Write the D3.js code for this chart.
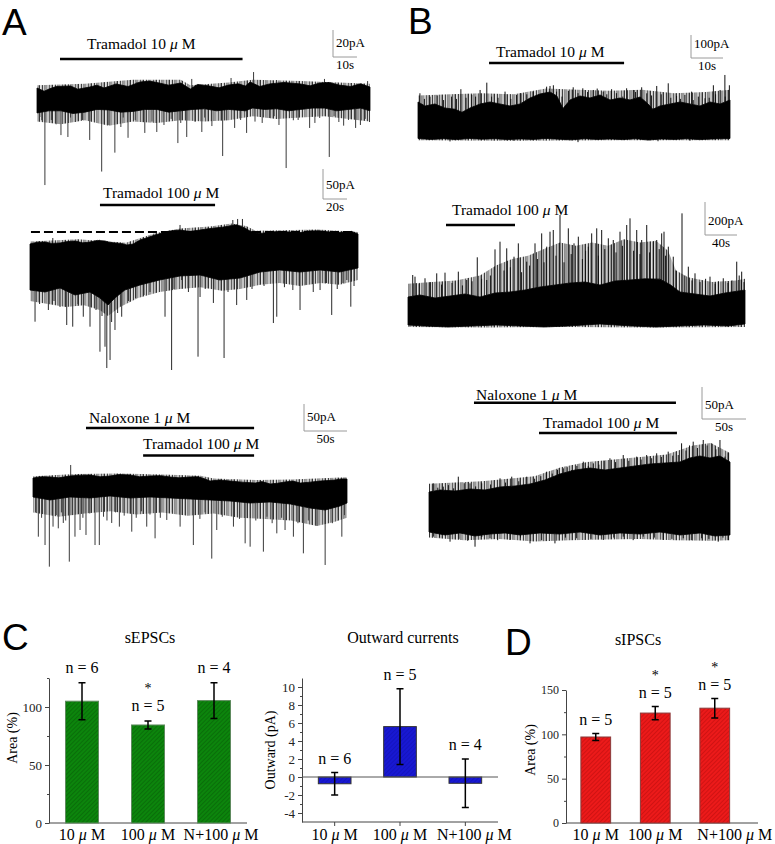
<!DOCTYPE html>
<html><head><meta charset="utf-8">
<script src="https://cdn.jsdelivr.net/npm/d3@7"></script>
<style>body{margin:0;background:#fff}svg{display:block}</style>
</head><body><svg id="fig" width="775" height="844"></svg>
<script>
// ---------------- DATA (time in s, current in pA) ----------------
// Trace A1
const a1Top = [[0,8.9],[3,6.5],[5,8.1],[8,10],[14,10.4],[17,8],[22,9.6],[25,11],[28,8.9],[33,11.9],[38,10],[43,13.3],[47,14],[51,12.6],[55,11],[60,12.6],[64,8.1],[67,11.5],[72,10.4],[76,9],[80,11.1],[84,12],[87,10.4],[89,13.3],[93,10],[97,11.9],[103,13],[110,11.9],[114,10.5],[118,12.6],[122,13],[126,11.1],[131,10],[135,12],[139,9.6]];
const a1Bottom = [[0,-9.6],[5,-8],[10,-8],[15,-10],[20,-9],[25,-7],[30,-7.4],[35,-9],[40,-8.5],[45,-7],[50,-7],[55,-9],[60,-8],[65,-7],[70,-6.5],[75,-8],[80,-7],[87,-8],[90,-5.9],[95,-7],[100,-6.5],[105,-8],[110,-7],[115,-6],[120,-6],[125,-8],[130,-7],[135,-6],[139,-8]];
const a1FringeHigh = [[0,11],[20,12],[40,15],[60,15],[64,11],[80,13],[90,15],[110,14],[139,12]];
const a1FringeLow = [[0,-16],[10,-18],[20,-15],[30,-19],[40,-16],[50,-17],[60,-15],[70,-16],[80,-15],[90,-12],[100,-14],[110,-13],[120,-12],[130,-14],[139,-16]];
const a1Spikes = [[3.3,-63],[10,-26],[12.9,-27.4],[22,-29.6],[27,-53],[32.5,-39],[38,-28],[45,-24.4],[50,-23.7],[58.8,-31.9],[62.5,-27.4],[68.8,-23.7],[77.5,-41.5],[82.5,-20.7],[87.5,-24.4],[94,-17],[104,-50.4],[113.8,-20.7],[122,-42.2],[133,-20.7],[138.8,-16.3],[1.2,-12.6],[6,-14.8],[16,-16.3],[19,-14.8],[30,-18.5],[41,-14.8],[53,-18.5],[66,-16.3],[73,-19.3],[85,-14.8],[97,-13.3],[101,-18.5],[109,-14.8],[118,-13.3],[126,-16.3],[130,-14.8],[135,-18.5],[2,-15],[8,-18],[14,-13],[24,-15],[35,-20],[36,-13],[48,-16],[56,-14],[60,-17],[70,-13],[79,-15],[91,-16],[99,-12],[107,-15],[116,-17],[124,-12],[128,-19],[137,-14],[90.4,20.7],[64.6,15.6],[81,16.3],[120,15.6],[138,14],[100,14.8],[41.7,13.3]];
const a1Drugs = [{name:"Tramadol", conc:"10", start:9.6, end:85.8}];

// Trace A2
const a2Top = [[0,-20],[6,-17],[12.5,-16.7],[18,-19],[25,-18.3],[31,-16],[37.5,-15],[44,-18],[50,-16.7],[56,-14],[62.5,-15],[66,-17],[70.8,-18.3],[76,-19],[80.8,-21.7],[86,-20],[91.7,-13.3],[97,-10],[104,-5],[108,-3],[112.5,0],[118,2],[125,3.3],[133,1],[141.7,3.3],[147,5],[154,6.7],[160,8],[166.7,10],[172,12],[179,6.7],[183,2],[187.5,-1.7],[194,-2],[200,0],[208,1],[216.7,0],[225,-1],[233,1.7],[241,2],[250,0],[256,-1],[262.5,0],[268,1],[273.3,-3.3]];
const a2Bottom = [[0,-96.7],[12.5,-100],[25,-93.3],[37.5,-105],[50,-100],[58.3,-110],[65,-121.7],[70.8,-110],[79,-96.7],[91.7,-88.3],[108,-80],[125,-73.3],[141.7,-71.7],[158,-80],[175,-76.7],[191.7,-66.7],[208,-63.3],[225,-66.7],[241.7,-63.3],[258,-66.7],[273.3,-60]];
const a2FringeHigh = [[0,-16],[40,-12],[80,-18],[92,-10],[104,-2],[125,6],[150,9],[168,14],[180,10],[188,2],[210,3],[240,4],[273.3,0]];
const a2FringeLow = [[0,-115],[15,-120],[30,-125],[45,-122],[58,-130],[65,-140],[75,-125],[90,-110],[108,-100],[125,-95],[142,-92],[160,-98],[175,-95],[192,-88],[208,-85],[225,-90],[242,-85],[258,-88],[273.3,-80]];
const a2Spikes = [[4.2,-149.5],[15.3,-130],[30.6,-155],[35.6,-157.8],[44.4,-141.2],[50,-157.8],[58.3,-199.5],[62.5,-191.2],[64,-226.7],[66.7,-213.3],[70.8,-163.3],[76.4,-141.2],[112.5,-141.2],[118,-230],[140,-207.8],[152.8,-118.3],[161.7,-210],[172.2,-121.7],[180.6,-113.3],[202.8,-151.7],[205.6,-141.2],[225,-130],[251.4,-138.3],[267.3,-124.5],[219,-96.7],[241.7,-96.7],[260.8,-85],[141.7,-108.3],[126.4,-80],[8,-120],[20,-115],[25,-125],[40,-120],[55,-130],[60,-140],[68,-150],[73,-135],[82,-115],[88,-110],[95,-105],[100,-100],[120,-95],[132,-100],[146,-95],[165,-100],[185,-95],[195,-90],[212,-92],[230,-88],[236,-100],[247,-85],[256,-95],[264,-80],[270,-90],[125,11.7],[169,20],[173,21.7],[177,21.7],[166.7,11.7],[152.5,6.7],[19,-10],[58,-13],[231,3.3],[252,1.7]];
const a2Drugs = [{name:"Tramadol", conc:"100", start:58.3, end:154.2}];
const a2Baseline = [0.8, 271];

// Trace A3
const a3Top = [[0,3.7],[10,6],[19.8,5.6],[30,4],[43,7.4],[55,9],[66.3,9.3],[78,6],[89.5,7.4],[100,10],[112.8,9.3],[124,6],[136,7.4],[148,8],[159.3,5.6],[170,4],[182.6,5.6],[192,6],[200,1.9],[205.8,-1.9],[217,0],[229,-1.9],[243,-4],[258.4,-5.6],[266,-3],[275.8,-7.4],[284,-6],[293,-3.7],[302,-2],[310.6,-5.6],[322,-4],[333.8,-1.9],[343,-1],[351.2,0],[358,2],[365,1.9]];
const a3Bottom = [[0,-31.5],[19.8,-37],[43,-31.5],[66.3,-33.3],[89.5,-29.6],[112.8,-33.3],[136,-31.5],[159.3,-33.3],[182.6,-35.2],[205.8,-37],[229,-38.9],[252.4,-42.6],[275.6,-40.7],[299,-44.4],[322,-51.9],[339.6,-55.6],[357,-48.1],[365,-42.6]];
const a3FringeHigh = [[0,7],[50,11],[100,12],[150,10],[195,8],[210,3],[260,0],[300,1],[365,5]];
const a3FringeLow = [[0,-60],[30,-68],[60,-62],[90,-58],[120,-64],[150,-60],[180,-66],[210,-62],[240,-70],[270,-72],[300,-75],[330,-85],[350,-78],[365,-70]];
const a3Spikes = [[6.2,-105],[14,-120.4],[19,-160.5],[23.3,-86.4],[29.4,-89.5],[35.2,-79.6],[42.2,-151.2],[48.8,-105],[54.7,-92.6],[61.6,-101.8],[72.1,-120.4],[77.1,-120.4],[91.5,-79.6],[100.4,-86.4],[114.8,-95.7],[132.2,-86.4],[141.9,-108],[155.5,-74],[171,-86.4],[186.4,-120.4],[207.8,-145.6],[213.6,-92.6],[233,-86.4],[246.6,-117.3],[252.4,-123.5],[267.8,-132.7],[283.4,-98.8],[293,-92.6],[302.7,-105],[314.3,-135.8],[339.6,-157.4],[359,-105],[3,-60],[10,-70],[27,-65],[33,-60],[38,-75],[46,-65],[58,-70],[66,-62],[82,-68],[86,-75],[96,-60],[106,-66],[120,-70],[126,-58],[136,-64],[148,-70],[162,-60],[177,-65],[194,-72],[200,-60],[220,-68],[240,-72],[259,-75],[272,-68],[278,-80],[289,-70],[308,-80],[320,-75],[330,-85],[348,-80],[355,-70],[362,-65],[43.8,27.8]];
const a3Drugs = [{name:"Naloxone", conc:"1", start:61.6, end:257},{name:"Tramadol", conc:"100", start:128, end:257}];

// Trace B1
const b1Top = [[0,156.6],[2.2,139.2],[5.3,147.9],[8.4,130.5],[11.6,125],[13.75,112],[16.25,130.5],[19.4,147.9],[22.5,156.6],[25.6,147.9],[28.75,139.2],[31.9,147.9],[35,174],[38.1,191.4],[41.25,200.1],[43.4,182.7],[45.3,128],[47.5,165.3],[50.6,182.7],[53.75,174],[56.9,187],[60,165.3],[63.1,174],[66.25,165.3],[69.4,178.4],[71.9,147.9],[73.4,125],[75.6,139.2],[78.75,147.9],[81.9,156.6],[85,147.9],[88.1,139.2],[91.25,156.6],[94.4,147.9],[97.5,165.3]];
const b1Bottom = [[0,-2],[4,-6],[8,-3],[12,-7],[16,-2],[20,-5],[24,-3],[28,-7],[32,-4],[36,-6],[40,-2],[44,-5],[48,-8],[52,-3],[56,-6],[60,-4],[64,-7],[68,-3],[72,-9],[76,-4],[80,-6],[84,-3],[88,-7],[92,-4],[97.5,-2]];
const b1FringeHigh = [[0,185],[10,190],[20,195],[30,190],[40,215],[50,210],[60,205],[70,210],[80,195],[90,200],[97.5,210]];
const b1FringeLow = [[0,-10],[30,-12],[60,-10],[97.5,-10]];
const b1Spikes = [[0.6,194.4],[3.75,179.9],[10.5,179.9],[13.4,212.2],[16.8,187.4],[19.4,208.8],[21.5,240.6],[23,179.9],[27.2,201.6],[30.8,187.4],[32.2,194.4],[37.6,172.7],[40.2,223.2],[41.25,226.2],[42.3,229.3],[43.3,201.6],[48.5,220.5],[51.5,216.1],[54.8,208.8],[57.9,201.6],[60.5,212.2],[65.2,216.1],[67.3,208.8],[69.9,220.5],[71.5,194.4],[74.6,226.2],[78.2,237.8],[80.8,182.7],[83.4,187.4],[85.5,201.6],[87.6,179.9],[89.7,172.7],[92.3,229.3],[94.4,208.8],[95.9,274],[97.3,229.3],[2,170],[6,185],[8,165],[12,170],[15,175],[18,180],[25,175],[29,170],[34,190],[36,200],[39,195],[45,180],[47,205],[50,195],[53,200],[56,215],[59,190],[62,195],[64,180],[68,200],[73,185],[76,190],[79,175],[82,170],[86,165],[91,175],[93,190],[96,180],[10,-15],[30,-12],[50,-18],[75,-14],[85,-12]];
const b1Drugs = [{name:"Tramadol", conc:"10", start:22.2, end:64.4}];

// Trace B2
const b2Top = [[0,169.7],[15,181.8],[33.75,163.6],[52.5,175.7],[71.25,187.9],[90,169.7],[108.75,193.9],[127.5,200],[146.25,212.1],[165,230.3],[183.75,242.4],[202.5,254.5],[221.25,260.6],[240,242.4],[258.75,266.6],[277.5,272.7],[296.25,280],[315,278],[327.5,245],[340,200],[358.75,187.9],[377.5,175.7],[396.25,193.9],[421.25,212.1]];
const b2Bottom = [[0,0],[20,-6],[50,-12],[80,-6],[110,0],[140,-6],[170,-12],[200,-6],[240,6],[280,-6],[310,-12],[340,-6],[370,0],[400,-6],[421.25,6]];
const b2FringeHigh = [[0,250],[30,260],[60,270],[90,300],[110,360],[130,400],[150,420],[170,460],[190,500],[210,480],[230,500],[250,480],[270,520],[290,500],[310,510],[325,450],[335,330],[350,290],[380,260],[410,270],[421.25,280]];
const b2FringeLow = [[0,-12],[100,-15],[200,-12],[300,-15],[421.25,-12]];
const b2Spikes = [[5.9,303],[8.75,292.9],[21.25,283.2],[35.9,313.1],[46.25,317.3],[62.9,323.3],[73.4,272.7],[86.6,410.3],[98.4,272.7],[108.75,458.5],[115,504.9],[123.4,464.6],[132.5,413.9],[137.9,494.7],[148.4,383.9],[158.75,494.7],[167.1,555.3],[173.4,474.7],[177.5,565.4],[181.6,575.7],[190,666.6],[200.4,585.8],[207.5,494.7],[212.9,535.3],[225.4,474.7],[229.6,555.3],[235.9,585.8],[242.1,575.7],[250.4,525.4],[256.6,515.1],[265,565.4],[273.4,606],[277.5,646.4],[285.9,575.7],[292.1,515.1],[298.4,606],[306.6,505.1],[310.9,515.1],[317.1,555.3],[320,565.4],[325.4,474.7],[331.6,414],[342.5,676.7],[350.4,353.5],[358.75,313.1],[377.5,292.9],[394.1,283.2],[410.9,383.9],[417.1,323.3],[14,250],[28,260],[42,245],[55,255],[68,240],[80,265],[92,280],[103,300],[120,330],[128,350],[142,320],[152,360],[162,400],[170,380],[185,420],[195,380],[204,430],[218,400],[222,450],[238,420],[246,460],[260,440],[268,480],[282,450],[290,430],[302,440],[314,460],[322,420],[335,330],[346,300],[355,270],[365,260],[372,280],[384,250],[388,265],[400,255],[405,270],[414,300],[420,260]];
const b2Drugs = [{name:"Tramadol", conc:"100", start:47.5, end:133.75}];

// Trace B3
const b3Top = [[0,31.25],[12.5,34.4],[29.5,32.8],[46.6,35.9],[63.6,34.4],[80.7,39.1],[97.7,40.6],[114.8,43.75],[131.8,50],[148.8,59.4],[165.9,65.6],[182.9,68.75],[200,65.6],[217,68.75],[234,71.9],[251,75],[268,76.6],[285,78.1],[296.4,84.4],[307.8,87.5],[319.2,84.4],[330.6,87.5],[342,78.1]];
const b3Bottom = [[0,-31.25],[18.2,-35.9],[35.2,-32.8],[52.3,-37.5],[69.3,-34.4],[86.4,-32.8],[103.4,-35.9],[126.1,-32.8],[148.8,-34.4],[171.6,-31.25],[194.3,-35.9],[217,-32.8],[239.8,-34.4],[262.5,-31.25],[285.2,-35.9],[307.9,-32.8],[325,-37.5],[342,-35.9]];
const b3FringeHigh = [[0,44],[30,46],[60,48],[90,52],[120,56],[150,70],[180,78],[210,82],[240,86],[270,90],[300,104],[320,108],[342,92]];
const b3FringeLow = [[0,-40],[40,-44],[80,-42],[120,-46],[160,-44],[200,-43],[240,-42],[280,-44],[320,-45],[342,-44]];
const b3Spikes = [[4.9,44.8],[16.2,39.6],[33.3,55.2],[46.6,44.8],[59.9,44.8],[80.7,52.6],[94,55.2],[111,55.2],[133.7,63],[152.6,68.2],[162.1,65.6],[175.3,78.6],[186.7,76],[205.6,83.9],[220.7,89],[236,86.5],[247.3,89],[258.7,91.7],[271.8,94.3],[283.2,89],[287,107.3],[300.2,109.9],[311.6,112.5],[321.2,107.3],[330.6,112.5],[336.3,86.5],[4.9,-38.5],[23.9,-46.4],[52.3,-54.2],[69.3,-41.1],[92,-43.75],[114.8,-49],[143.1,-49],[167.8,-41.1],[198,-43.75],[220.7,-38.5],[243.4,-38.5],[266.2,-43.75],[288.9,-41.1],[309.8,-41.1],[328.6,-46.4],[340,-43.75],[10,38],[22,42],[28,37],[40,45],[53,40],[70,43],[87,46],[102,48],[120,52],[127,56],[140,60],[146,66],[157,70],[168,72],[181,72],[193,74],[199,80],[212,78],[227,80],[241,82],[253,84],[264,86],[277,88],[292,96],[296,104],[305,100],[316,104],[326,98],[340,92],[12,-40],[34,-42],[44,-45],[60,-39],[78,-44],[104,-40],[128,-44],[155,-40],[184,-42],[210,-40],[232,-44],[256,-40],[276,-42],[298,-44],[318,-42],[334,-40]];
const b3Drugs = [{name:"Naloxone", conc:"1", start:51.1, end:280.6},{name:"Tramadol", conc:"100", start:125, end:281.7}];

// Scale bars [pA, s] for A1, A2, A3, B1, B2, B3
const scaleBarPA = [20, 50, 50, 100, 200, 50];
const scaleBarS  = [10, 20, 50, 10, 40, 50];

// Bar charts
const categories = ["10 μ M", "100 μ M", "N+100 μ M"];
const sepscMean = [105, 84.5, 105.5];
const sepscErr  = [16, 3.5, 15.5];
const sepscN    = [6, 5, 4];
const sepscSig  = [false, true, false];
const outwardMean = [-0.75, 5.6, -0.7];
const outwardErr  = [1.25, 4.2, 2.7];
const outwardN    = [6, 5, 4];
const outwardSig  = [false, false, false];
const sipscMean = [97, 124, 129.5];
const sipscErr  = [4, 7.5, 11];
const sipscN    = [5, 5, 5];
const sipscSig  = [false, true, true];
const sepscTicks = [0, 50, 100];
const outwardTicks = [-4, -2, 0, 2, 4, 6, 8, 10];
const sipscTicks = [0, 50, 100, 150];

// ---------------- DRAWING ----------------
const svg = d3.select("#fig");
const SERIF = "'Liberation Serif','Times New Roman',Times,serif";
const SANS = "'Liberation Sans',Arial,Helvetica,sans-serif";

const defs = svg.append("defs");
function hatch(id, base, line){
  const p = defs.append("pattern").attr("id", id).attr("patternUnits","userSpaceOnUse")
    .attr("width", 3).attr("height", 3).attr("patternTransform","rotate(45)");
  p.append("rect").attr("width",3).attr("height",3).attr("fill",base);
  p.append("line").attr("x1",0).attr("y1",0).attr("x2",0).attr("y2",3).attr("stroke",line).attr("stroke-width",1.1);
}
hatch("hG", "#0c850c", "#085a08");
hatch("hR", "#ec1a1a", "#b80c0c");
hatch("hB", "#1818d2", "#1010b0");
// irregular vertical-stripe texture for the noisy fringe of the current traces
const stripes = defs.append("pattern").attr("id","noise").attr("patternUnits","userSpaceOnUse")
  .attr("width", 13).attr("height", 40);
[[0,1,"#000"],[1.8,0.6,"#555"],[3,1.2,"#111"],[5.2,0.7,"#333"],[6.5,1,"#000"],[8.6,0.6,"#444"],[9.8,1.1,"#222"],[11.7,0.8,"#000"]].forEach(s => {
  stripes.append("rect").attr("x", s[0]).attr("y", 0).attr("width", s[1]).attr("height", 40).attr("fill", s[2]);
});

function interp(env, t){
  const i = d3.bisector(d => d[0]).right(env, t);
  if (i <= 0) return env[0][1];
  if (i >= env.length) return env[env.length-1][1];
  const a = env[i-1], b = env[i];
  return a[1] + (b[1]-a[1]) * (t-a[0]) / (b[0]-a[0]);
}

function concLabel(sel, name, conc){
  sel.append("tspan").text(name + " " + conc + " ");
  sel.append("tspan").attr("font-style","italic").text("μ");
  sel.append("tspan").text(" M");
}

function drawTrace(L, top, bottom, fHigh, fLow, spikes, drugs, idx, baseline){
  const x = d3.scaleLinear().domain([0, L.dur]).range([L.x0, L.x1]);
  const y = d3.scaleLinear().domain([0, 1]).range([L.yZero, L.yZero - L.ppa]);
  const g = svg.append("g");
  const line = d3.line().x(d => x(d[0])).y(d => y(d[1]));
  g.append("path").attr("d", line(fHigh.concat(fLow.slice().reverse())) + "Z")
    .attr("fill", "url(#noise)").attr("opacity", 0.8);
  g.selectAll("line.sp").data(spikes).join("line")
    .attr("x1", d => x(d[0])).attr("x2", d => x(d[0]))
    .attr("y1", d => y(d[1] > interp(top, d[0]) ? interp(top, d[0]) : interp(bottom, d[0])))
    .attr("y2", d => y(d[1]))
    .attr("stroke", L.spikeColor).attr("stroke-width", 1);
  g.append("path").attr("d", line(top.concat(bottom.slice().reverse())) + "Z")
    .attr("fill", "#000").attr("stroke", "#000").attr("stroke-width", 0.8);
  if (baseline){
    g.append("line").attr("x1", x(baseline[0])).attr("x2", x(baseline[1]))
      .attr("y1", y(0)).attr("y2", y(0))
      .attr("stroke","#000").attr("stroke-width",2).attr("stroke-dasharray","9,4");
  }
  const vLen = y(0) - y(scaleBarPA[idx]);
  const hLen = x(scaleBarS[idx]) - x(0);
  g.append("path").attr("d", `M${L.sb[0]},${L.sb[1]-vLen}V${L.sb[1]}H${L.sb[0]+hLen}`)
    .attr("fill","none").attr("stroke","#9a9a9a").attr("stroke-width",1);
  g.append("text").attr("x", L.sb[0]+3).attr("y", L.sb[1]-10)
    .attr("font-family", SERIF).attr("font-size", 13).text(scaleBarPA[idx] + "pA");
  g.append("text").attr("x", L.sb[0]+hLen/2).attr("y", L.sb[1]+12).attr("text-anchor","middle")
    .attr("font-family", SERIF).attr("font-size", 13).text(scaleBarS[idx] + "s");
  drugs.forEach((d, i) => {
    const p = L.drug[i];
    g.append("line").attr("x1", x(d.start)).attr("x2", x(d.end)).attr("y1", p[2]).attr("y2", p[2])
      .attr("stroke","#000").attr("stroke-width",2.5);
    const t = g.append("text").attr("x", p[0]).attr("y", p[1])
      .attr("font-family", SERIF).attr("font-size", 15.5);
    concLabel(t, d.name, d.conc);
  });
}

drawTrace({x0:37,x1:370,dur:139,yZero:100,ppa:1.35,sb:[333,57],drug:[[87,49,59]],spikeColor:"#3a3a3a"}, a1Top, a1Bottom, a1FringeHigh, a1FringeLow, a1Spikes, a1Drugs, 0);
drawTrace({x0:30,x1:358,dur:273.3,yZero:232,ppa:0.6,sb:[323,199],drug:[[103,198,205]],spikeColor:"#2a2a2a"}, a2Top, a2Bottom, a2FringeHigh, a2FringeLow, a2Spikes, a2Drugs, 1, a2Baseline);
drawTrace({x0:33,x1:347,dur:365,yZero:480,ppa:0.54,sb:[304,431],drug:[[89,423,428],[143,449,455.5]],spikeColor:"#3a3a3a"}, a3Top, a3Bottom, a3FringeHigh, a3FringeLow, a3Spikes, a3Drugs, 2);
drawTrace({x0:418,x1:730,dur:97.5,yZero:138,ppa:0.23,sb:[691,58],drug:[[496,57,63]],spikeColor:"#111"}, b1Top, b1Bottom, b1FringeHigh, b1FringeLow, b1Spikes, b1Drugs, 3);
drawTrace({x0:408,x1:745,dur:421.25,yZero:325,ppa:0.165,sb:[705,235],drug:[[452,215,225]],spikeColor:"#111"}, b2Top, b2Bottom, b2FringeHigh, b2FringeLow, b2Spikes, b2Drugs, 4);
drawTrace({x0:429,x1:730,dur:342,yZero:512,ppa:0.64,sb:[702,419],drug:[[476,400,402.7],[543,428,433]],spikeColor:"#111"}, b3Top, b3Bottom, b3FringeHigh, b3FringeLow, b3Spikes, b3Drugs, 5);

[["A",2,35],["B",408,34],["C",2,650],["D",505,655]].forEach(p => {
  svg.append("text").attr("x", p[1]).attr("y", p[2]).attr("font-family", SANS)
    .attr("font-size", 37).text(p[0]);
});

function drawBarChart(C, means, errs, ns, sig, ticks){
  const x = d3.scaleBand().domain(categories).range([C.x0, C.x1]).paddingInner(0.5).paddingOuter(0.25);
  const y = d3.scaleLinear().domain(C.domain).range([C.yB, C.yT]);
  const g = svg.append("g");
  const cx = i => x(categories[i]) + x.bandwidth()/2;
  const ax = g.append("g").attr("transform", `translate(${C.x0},0)`)
    .call(d3.axisLeft(y).tickValues(ticks).tickSize(4).tickSizeOuter(0).tickPadding(3).tickFormat(d => String(d)));
  ax.select(".domain").attr("stroke","#444");
  ax.selectAll(".tick line").attr("stroke","#444");
  ax.selectAll(".tick text").attr("font-family", SERIF).attr("font-size", C.tickFont).attr("fill","#222");
  if (C.minor){
    g.append("g").attr("transform", `translate(${C.x0},0)`)
      .call(d3.axisLeft(y).tickValues(C.minor).tickSize(2).tickSizeOuter(0).tickFormat(""))
      .call(s => { s.select(".domain").remove(); s.selectAll("line").attr("stroke","#444"); });
  }
  g.append("line").attr("x1", C.x0).attr("x2", C.lineEnd).attr("y1", y(C.domain[0])).attr("y2", y(C.domain[0]))
    .attr("stroke","#444").attr("stroke-width",1);
  if (C.catTicks){
    g.selectAll("line.ct").data(categories).join("line")
      .attr("x1",(d,i)=>cx(i)).attr("x2",(d,i)=>cx(i)).attr("y1", y(C.domain[0])).attr("y2", y(C.domain[0])+4)
      .attr("stroke","#444");
  }
  g.selectAll("rect.bar").data(means).join("rect")
    .attr("x", (d,i) => x(categories[i])).attr("width", x.bandwidth())
    .attr("y", d => y(Math.max(0, d))).attr("height", d => Math.abs(y(d) - y(0)))
    .attr("fill", C.fill).attr("stroke", C.stroke).attr("stroke-width", 1);
  if (C.domain[0] < 0){
    g.append("line").attr("x1", C.x0).attr("x2", C.lineEnd).attr("y1", y(0)).attr("y2", y(0))
      .attr("stroke","#555").attr("stroke-width",1);
  }
  means.forEach((m, i) => {
    const e = errs[i], c = cx(i);
    g.append("path").attr("d", `M${c},${y(m+e)}V${y(m-e)}M${c-3.5},${y(m+e)}H${c+3.5}M${c-3.5},${y(m-e)}H${c+3.5}`)
      .attr("stroke","#000").attr("stroke-width",1.5).attr("fill","none");
    const nb = y(m+e) - C.nOff;
    g.append("text").attr("x", c).attr("y", nb).attr("text-anchor","middle")
      .attr("font-family", SERIF).attr("font-size", 16).text("n = " + ns[i]);
    if (sig[i]) g.append("text").attr("x", c).attr("y", nb - 18).attr("text-anchor","middle")
      .attr("font-family", SERIF).attr("font-size", 14).text("*");
  });
  categories.forEach((cat, i) => {
    const parts = cat.split("μ");
    const t = g.append("text").attr("x", cx(i) + C.labelDx[i]).attr("y", 840).attr("text-anchor","middle")
      .attr("font-family", SERIF).attr("font-size", 16);
    t.append("tspan").text(parts[0]);
    t.append("tspan").attr("font-style","italic").text("μ");
    t.append("tspan").text(parts[1]);
  });
  g.append("text").attr("x", C.titleX).attr("y", C.titleY).attr("text-anchor","middle")
    .attr("font-family", SERIF).attr("font-size", 16).text(C.title);
  g.append("text").attr("transform", `translate(${C.ylabX},${C.ylabY}) rotate(-90)`).attr("text-anchor","middle")
    .attr("font-family", SERIF).attr("font-size", 14).text(C.ylab);
}

drawBarChart({x0:49,x1:247,lineEnd:247,yB:823,yT:678,domain:[0,125],minor:[25,75,125],tickFont:13,
  fill:"url(#hG)",stroke:"#5e8a5e",nOff:10,labelDx:[0,0,7],title:"sEPSCs",titleX:150,titleY:643,
  ylab:"Area (%)",ylabX:17,ylabY:738}, sepscMean, sepscErr, sepscN, sepscSig, sepscTicks);
drawBarChart({x0:302,x1:498,lineEnd:498,yB:822,yT:678,domain:[-5,11],minor:[-3,-1,1,3,5,7,9],tickFont:13,
  fill:"url(#hB)",stroke:"#333",nOff:9,labelDx:[0,0,9],catTicks:true,title:"Outward currents",titleX:403,titleY:643,
  ylab:"Outward (pA)",ylabX:275,ylabY:750}, outwardMean, outwardErr, outwardN, outwardSig, outwardTicks);
drawBarChart({x0:566,x1:744.5,lineEnd:758,yB:823,yT:690,domain:[0,150],minor:[25,75,125],tickFont:12,
  fill:"url(#hR)",stroke:"#8a3a3a",nOff:8,labelDx:[0,0,20],title:"sIPSCs",titleX:638,titleY:645,
  ylab:"Area (%)",ylabX:535,ylabY:750}, sipscMean, sipscErr, sipscN, sipscSig, sipscTicks);
</script>
</body></html>
